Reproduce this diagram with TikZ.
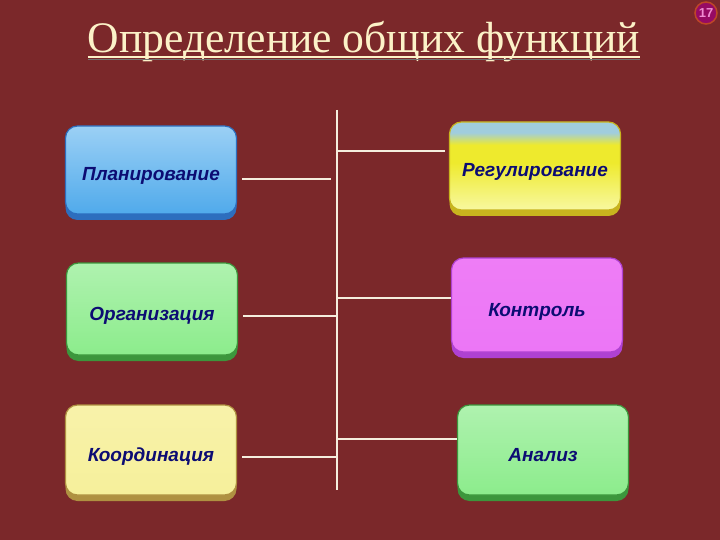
\documentclass[tikz,border=0pt]{standalone}
\usepackage{fontspec}
\usepackage{xcolor}
\usepackage{tikz}
\usetikzlibrary{shadows}
\setmainfont{Liberation Serif}
\newfontfamily\boxfont{Liberation Sans}

\definecolor{bgred}{RGB}{123,40,42}
\definecolor{linecream}{RGB}{245,238,222}
\definecolor{titlecream}{RGB}{252,242,200}
\definecolor{textnavy}{RGB}{12,12,115}
\definecolor{badgepurple}{RGB}{150,10,100}
\definecolor{badgerim}{RGB}{190,70,40}
\definecolor{badgepink}{RGB}{240,140,210}
\definecolor{reglight}{RGB}{248,248,160}
\definecolor{regmain}{RGB}{238,234,45}
\definecolor{regblue}{RGB}{160,205,222}
\pgfdeclareverticalshading{regshade}{100bp}{color(0bp)=(reglight); color(25bp)=(reglight);
	color(52bp)=(regmain); color(62bp)=(regmain); color(69bp)=(regblue); color(100bp)=(regblue)}

\begin{document}
\begin{tikzpicture}[x=1pt,y=-1pt,
		funcbox/.style={rounded corners=12pt, minimum width=171pt, minimum height=88pt,
			text height=26pt, text depth=4pt, text=textnavy, line width=1.2pt,
			font=\boxfont\bfseries\itshape\fontsize{19}{21}\selectfont},
		colbox/.style n args={4}{top color=#1, middle color=#2, bottom color=#3, draw=#4,
			drop shadow={shadow xshift=0pt, shadow yshift=-6pt, fill=#4, opacity=1}},
		link/.style={draw=linecream, line width=2pt}]
		\useasboundingbox (0,0) rectangle (720,540);
		\fill[bgred] (0,0) rectangle (720,540);

		% title
		\node[text=titlecream, font=\fontsize{43.6}{48}\selectfont, inner sep=0pt, anchor=base] (title) at (364,53) {Определение общих функций};
		\draw[black!55, line width=1.5pt] ([yshift=-6.5pt]title.base west) -- ([yshift=-6.5pt]title.base east);
		\draw[titlecream, line width=2.5pt] ([yshift=-4pt]title.base west) -- ([yshift=-4pt]title.base east);
		\node[circle, fill=badgepurple, draw=badgerim, line width=1.5pt, minimum size=22pt, inner sep=0pt,
			text=badgepink, font=\boxfont\bfseries\fontsize{13}{13}\selectfont] (pagenum) at (706,13) {17};

		% left column
		\node[funcbox, colbox={{rgb,255:red,155;green,208;blue,245}}{{rgb,255:red,62;green,160;blue,230}}{{rgb,255:red,80;green,170;blue,235}}{{rgb,255:red,45;green,110;blue,190}}] (plan) at (151,170) {Планирование};
		\node[funcbox, minimum height=92pt, colbox={{rgb,255:red,175;green,242;blue,175}}{{rgb,255:red,105;green,222;blue,105}}{{rgb,255:red,140;green,236;blue,140}}{{rgb,255:red,60;green,150;blue,60}}] (org) at (152,309) {Организация};
		\node[funcbox, minimum height=90pt, colbox={{rgb,255:red,248;green,242;blue,170}}{{rgb,255:red,240;green,232;blue,105}}{{rgb,255:red,246;green,240;blue,155}}{{rgb,255:red,175;green,145;blue,65}}] (coord) at (151,450) {Координация};

		% right column
		\node[funcbox, shading=regshade, draw={rgb,255:red,200;green,180;blue,30},
			drop shadow={shadow xshift=0pt, shadow yshift=-6pt, fill={rgb,255:red,200;green,180;blue,30}, opacity=1}] (reg) at (535,166) {Регулирование};
		\node[funcbox, minimum height=94pt, colbox={{rgb,255:red,238;green,125;blue,246}}{{rgb,255:red,225;green,95;blue,240}}{{rgb,255:red,236;green,118;blue,246}}{{rgb,255:red,175;green,65;blue,210}}] (ctrl) at (537,305) {Контроль};
		\node[funcbox, minimum height=90pt, colbox={{rgb,255:red,175;green,242;blue,175}}{{rgb,255:red,105;green,222;blue,105}}{{rgb,255:red,140;green,236;blue,140}}{{rgb,255:red,60;green,150;blue,60}}] (anal) at (543,450) {Анализ};

		% trunk and branches
		\coordinate (trunktop) at (337,110);
		\coordinate (trunkbot) at (337,490);
		\coordinate (jplan) at (331,179);
		\coordinate (jorg) at (337,316);
		\coordinate (jcoord) at (337,457);
		\coordinate (jreg) at (337,151);
		\coordinate (jctrl) at (337,298);
		\coordinate (janal) at (337,439);

		\draw[link] (trunktop) -- (trunkbot);
		\draw[link, shorten <=5pt] (plan.east |- jplan) -- (jplan);
		\draw[link, shorten <=5pt] (org.east |- jorg) -- (jorg);
		\draw[link, shorten <=5pt] (coord.east |- jcoord) -- (jcoord);
		\draw[link, shorten >=4pt] (jreg) -- (reg.west |- jreg);
		\draw[link] (jctrl) -- (ctrl.west |- jctrl);
		\draw[link] (janal) -- (anal.west |- janal);
	\end{tikzpicture}
\end{document}
